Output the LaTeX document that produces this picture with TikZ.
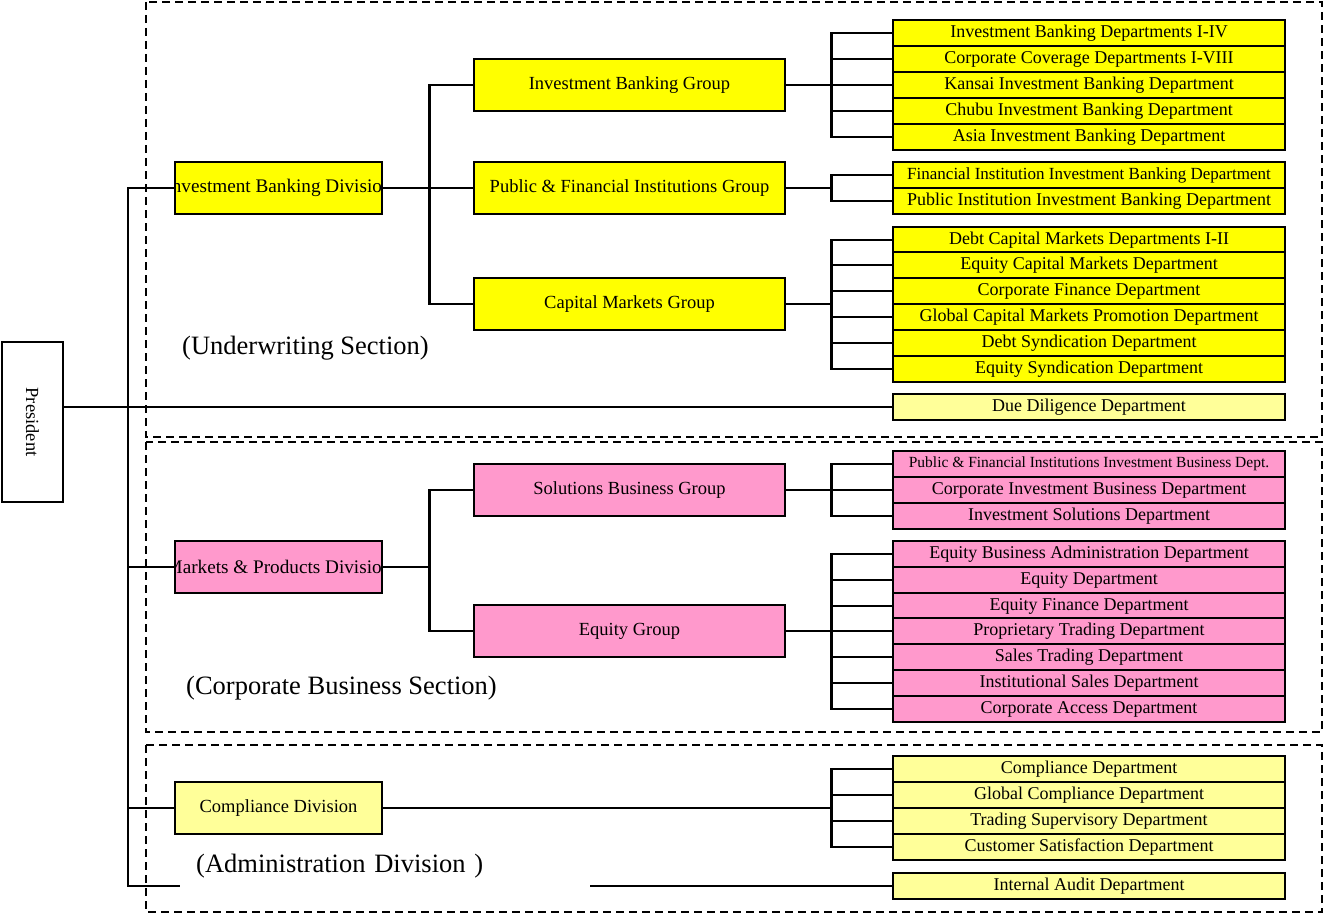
\documentclass[tikz,border=0pt]{standalone}
\usepackage{fontspec}
\setmainfont{Liberation Serif}
\usetikzlibrary{positioning}

\begin{document}
\begin{tikzpicture}[x=1pt, y=-1pt,
    box/.style={draw, line width=2.8pt, inner sep=1pt,
      font=\fontsize{18}{20}\selectfont},
    dept/.style={box, minimum width=392pt, minimum height=26pt},
    group/.style={box, minimum width=311pt, minimum height=52pt,
      font=\fontsize{18.5}{20}\selectfont},
    division/.style={box, minimum width=207pt, minimum height=52pt},
    ylw/.style={fill=yellow},
    lylw/.style={fill=yellow!40},
    pnk/.style={fill=pink},
    link/.style={line width=2.8pt},
    secbox/.style={line width=1.6pt, dash pattern=on 8pt off 5pt},
    seclabel/.style={inner sep=2pt, font=\fontsize{26.5}{30}\selectfont}]
    \definecolor{yellow}{HTML}{FFFF00}
    \definecolor{pink}{HTML}{FF99CC}
    \useasboundingbox (0,0) rectangle (1325,915);
    % section frames
    \draw[secbox] (146,2)   rectangle (1322,437);
    \draw[secbox] (146,442) rectangle (1322,732);
    \draw[secbox] (146,745) rectangle (1322,912);
    % president
    \node[box, minimum width=61pt, minimum height=160pt] (pres) at (32.5,422)
    {\rotatebox{-90}{\fontsize{18.5}{20}\selectfont President}};
    % divisions
    \node[division, ylw, path picture={\node[font=\fontsize{19.2}{20}\selectfont]
      at (path picture bounding box.center) {Investment Banking Division};}]
    (ibdiv) at (278.5,188) {};
    \node[division, pnk, path picture={\node[font=\fontsize{19.2}{20}\selectfont]
      at (path picture bounding box.center) {Markets \& Products Division};}]
    (mpdiv) at (278.5,567) {};
    \node[division, lylw, font=\fontsize{18.5}{20}\selectfont]
    (cddiv) at (278.5,808) {Compliance Division};
    % groups
    \node[group, ylw] (ibg) at (629.5,85)  {Investment Banking Group};
    \node[group, ylw] (pfg) at (629.5,188) {Public \& Financial Institutions Group};
    \node[group, ylw] (cmg) at (629.5,304) {Capital Markets Group};
    \node[group, pnk] (sbg) at (629.5,490) {Solutions Business Group};
    \node[group, pnk] (eqg) at (629.5,631) {Equity Group};
    % departments
    \foreach \n/\y/\t in {ibd1/33/Investment Banking Departments I-IV,
      ibd2/59/Corporate Coverage Departments I-VIII,
      ibd3/85/Kansai Investment Banking Department,
      ibd4/111/Chubu Investment Banking Department,
      ibd5/137/Asia Investment Banking Department,
      pfd2/201/Public Institution Investment Banking Department,
      cmd1/240/Debt Capital Markets Departments I-II,
      cmd2/265/Equity Capital Markets Department,
      cmd3/291/Corporate Finance Department,
      cmd4/317/Global Capital Markets Promotion Department,
      cmd5/343/Debt Syndication Department,
      cmd6/369/Equity Syndication Department}
    \node[dept, ylw] (\n) at (1089,\y) {\t};
    \node[dept, ylw, font=\fontsize{17}{20}\selectfont] (pfd1) at (1089,175)
    {Financial Institution Investment Banking Department};
    \node[dept, lylw] (dd) at (1089,407) {Due Diligence Department};
    \foreach \n/\y/\t in {sbd2/490/Corporate Investment Business Department,
      sbd3/516/Investment Solutions Department,
      eqd1/554/Equity Business Administration Department,
      eqd2/580/Equity Department,
      eqd3/606/Equity Finance Department,
      eqd4/631/Proprietary Trading Department,
      eqd5/657/Sales Trading Department,
      eqd6/683/Institutional Sales Department,
      eqd7/709/Corporate Access Department}
    \node[dept, pnk] (\n) at (1089,\y) {\t};
    \node[dept, pnk, font=\fontsize{15.5}{18}\selectfont] (sbd1) at (1089,464)
    {Public \& Financial Institutions Investment Business Dept.};
    \foreach \n/\y/\t in {cdd1/769/Compliance Department,
      cdd2/795/Global Compliance Department,
      cdd3/821/Trading Supervisory Department,
      cdd4/847/Customer Satisfaction Department,
      iad/886/Internal Audit Department}
    \node[dept, lylw] (\n) at (1089,\y) {\t};
    % spine from president
    \coordinate (spine) at (128,0);
    \draw[link] (pres.east |- dd) -- (dd.west);
    \draw[link] (ibdiv.west) -| (spine |- iad.west) -- (iad.west);
    \draw[link] (mpdiv.west) -- (mpdiv.west -| spine);
    \draw[link] (cddiv.west) -- (cddiv.west -| spine);
    % division to groups
    \draw[link] (ibdiv.east) -- ++(46,0) coordinate (jib);
    \foreach \g in {ibg,pfg,cmg} \draw[link] (jib) |- (\g.west);
    \draw[link] (mpdiv.east) -- ++(46,0) coordinate (jmp);
    \foreach \g in {sbg,eqg} \draw[link] (jmp) |- (\g.west);
    % groups to departments
    \draw[link] (ibg.east) -- ++(45,0) coordinate (jibg);
    \foreach \n in {ibd1,ibd2,ibd3,ibd4,ibd5} \draw[link] (jibg) |- (\n.west);
    \draw[link] (pfg.east) -- ++(45,0) coordinate (jpfg);
    \foreach \n in {pfd1,pfd2} \draw[link] (jpfg) |- (\n.west);
    \draw[link] (cmg.east) -- ++(45,0) coordinate (jcmg);
    \foreach \n in {cmd1,cmd2,cmd3,cmd4,cmd5,cmd6} \draw[link] (jcmg) |- (\n.west);
    \draw[link] (sbg.east) -- ++(45,0) coordinate (jsbg);
    \foreach \n in {sbd1,sbd2,sbd3} \draw[link] (jsbg) |- (\n.west);
    \draw[link] (eqg.east) -- ++(45,0) coordinate (jeqg);
    \foreach \n in {eqd1,eqd2,eqd3,eqd4,eqd5,eqd6,eqd7} \draw[link] (jeqg) |- (\n.west);
    \draw[link] (cddiv.east) -- (cddiv.east -| jeqg) coordinate (jcd);
    \foreach \n in {cdd1,cdd2,cdd3,cdd4} \draw[link] (jcd) |- (\n.west);
    % section labels
    \node[seclabel, anchor=west] (uwlbl) at (180,348) {(Underwriting Section)};
    \node[seclabel, anchor=west] (cblbl) at (184,688) {(Corporate Business Section)};
    \node[seclabel, anchor=west, fill=white, text width=378pt, inner xsep=16pt,
      minimum height=46pt, align=left] (adlbl) at (180,866)
    {(Administration Division )};
\end{tikzpicture}
\end{document}
